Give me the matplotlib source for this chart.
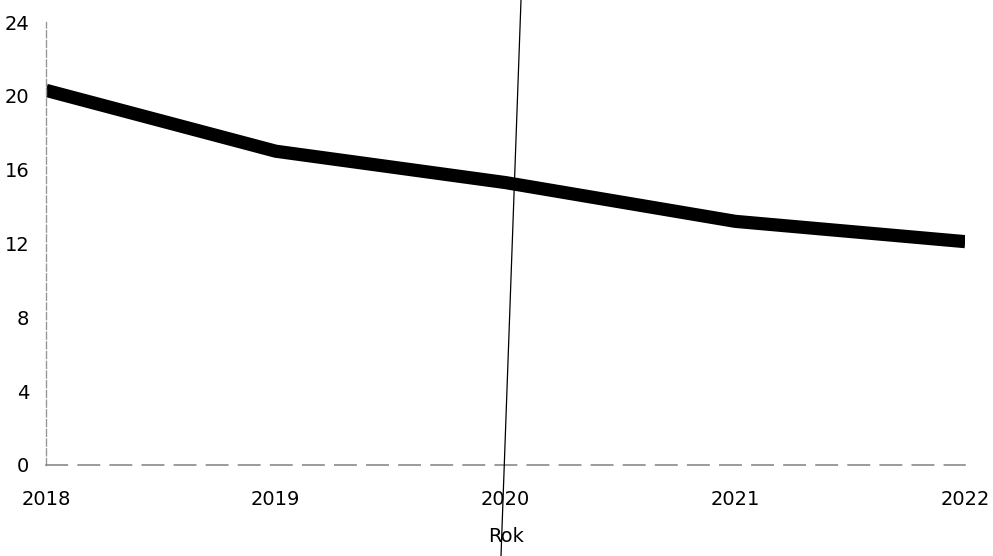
import matplotlib.pyplot as plt
from matplotlib.lines import Line2D

# data
roky = [2018, 2019, 2020, 2021, 2022]
hodnoty = [20.3, 17.0, 15.3, 13.2, 12.1]
y_ticks = [0, 4, 8, 12, 16, 20, 24]

fig = plt.figure(figsize=(9.93, 5.56), dpi=100)
ax = fig.add_axes([0.0463, 0.1637, 0.9257, 0.7967])

ax.plot(roky, hodnoty, color='black', linewidth=9.5, solid_capstyle='butt', solid_joinstyle='round')

ax.set_xlim(2018, 2022)
ax.set_ylim(0, 24)
ax.set_xticks(roky)
ax.set_yticks(y_ticks)
ax.tick_params(length=0, labelsize=14, labelcolor='black')
ax.tick_params(axis='x', pad=18)
ax.tick_params(axis='y', pad=12)

for s in ['top', 'right']:
    ax.spines[s].set_visible(False)
ax.spines['left'].set_color('#999999')
ax.spines['left'].set_linewidth(1)
ax.spines['left'].set_linestyle((0, (5, 2)))
ax.spines['bottom'].set_color('#808080')
ax.spines['bottom'].set_linewidth(1.1)
ax.spines['bottom'].set_linestyle((0, (14, 7)))

ax.set_xlabel('Rok', fontsize=14, labelpad=13)

# tenka svisla cara pres obrazek
fig.add_artist(Line2D([521 / 993, 501 / 993], [1, 0], transform=fig.transFigure,
                      color='black', linewidth=0.9))

plt.savefig('out.png', dpi=100)
